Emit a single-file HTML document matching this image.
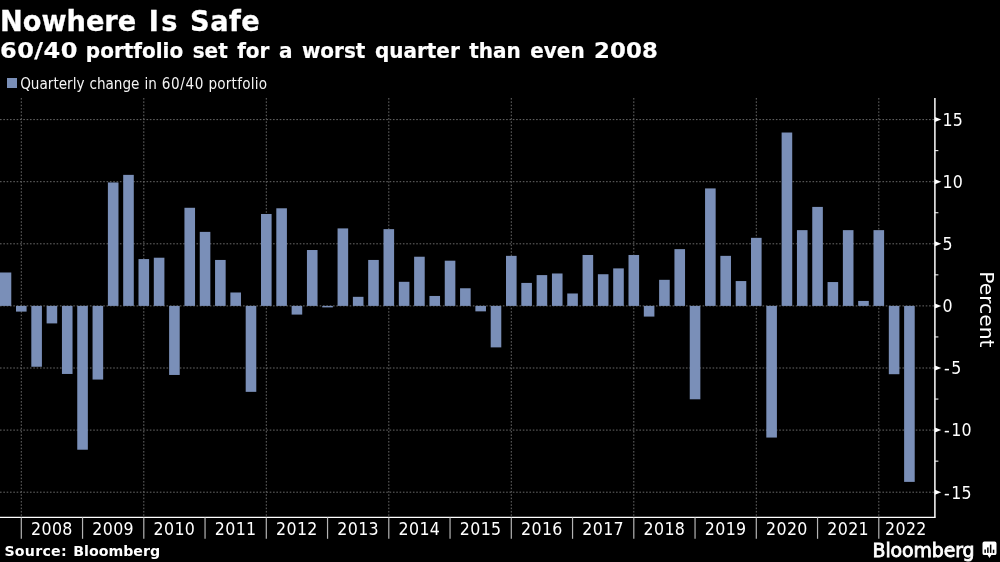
<!DOCTYPE html>
<html lang="en"><head><meta charset="utf-8"><title>Nowhere Is Safe</title>
<style>
html,body{margin:0;padding:0;background:#000;}
body{width:1000px;height:562px;overflow:hidden;position:relative;font-family:"DejaVu Sans","Liberation Sans",sans-serif;color:#fff;}
.title{position:absolute;left:0;top:1.5px;font-size:27.2px;font-weight:bold;line-height:40px;white-space:nowrap;word-spacing:3.2px;transform:scaleY(1.06);transform-origin:0 30.5px;-webkit-text-stroke:0.3px #fff;}
.title .i{letter-spacing:2.2px;margin-right:-2.2px;}
.title .s{letter-spacing:0.5px;}
.sub{position:absolute;left:0;top:36.7px;font-size:20px;font-weight:bold;line-height:28px;white-space:nowrap;word-spacing:2.5px;transform:scaleY(1.09);transform-origin:0 21.3px;-webkit-text-stroke:0.2px #fff;}
.sub .d{display:inline-block;transform:scaleX(1.2);transform-origin:0 50%;letter-spacing:0.4px;margin-right:11.4px;}
.sub .e{transform:scaleX(1.14);letter-spacing:0.1px;margin-right:6.5px;}
.leg{position:absolute;left:20.2px;top:73.8px;font-family:"DejaVu Sans Condensed","DejaVu Sans",sans-serif;font-stretch:condensed;font-size:15.1px;word-spacing:0.7px;line-height:20px;white-space:nowrap;color:#f4f4f4;}
.leg .d{letter-spacing:0.6px;margin-right:-0.6px;}
.leg .p{letter-spacing:0.22px;}
.sw{position:absolute;left:7.3px;top:78.4px;width:10.2px;height:9.8px;background:#7a8fb8;}
.src{position:absolute;left:4.4px;top:541.3px;font-size:14.2px;font-weight:bold;line-height:20px;white-space:nowrap;word-spacing:1.4px;}
.src .o{letter-spacing:0.25px;}
.logo{position:absolute;left:872.6px;top:538.1px;font-size:18.9px;font-weight:normal;line-height:24px;white-space:nowrap;font-family:"DejaVu Sans","Liberation Sans",sans-serif;-webkit-text-stroke:0.8px #fff;letter-spacing:-0.1px;}
svg{position:absolute;left:0;top:0;}
.w{position:absolute;left:0;top:0;width:1000px;height:562px;will-change:transform;filter:blur(0.35px);}
.g{stroke:#686868;stroke-width:1;stroke-dasharray:1.6 1.73;}
.b{fill:#7a8fb8;}
.a{stroke:#fff;stroke-width:1.5;}
.ab{stroke:#fff;stroke-width:1.2;}
.m{stroke:#fff;stroke-width:1;}
.t{stroke:#b4b4b4;stroke-width:1.2;}
.tk{fill:#fff;}
.yl,.vl{fill:#fff;font-family:"DejaVu Sans Condensed","DejaVu Sans",sans-serif;font-stretch:condensed;}
.pc{fill:#fff;font-family:"DejaVu Sans","Liberation Sans",sans-serif;}
.yl{font-size:17.6px;letter-spacing:0.35px;}
.vl{font-size:17.6px;}
.pc{font-size:20.3px;}
</style></head>
<body>
<div class="w">
<svg width="1000" height="562" viewBox="0 0 1000 562">
<line class="g" x1="0" y1="119.6" x2="934.9" y2="119.6"/>
<line class="g" x1="0" y1="181.7" x2="934.9" y2="181.7"/>
<line class="g" x1="0" y1="243.8" x2="934.9" y2="243.8"/>
<line class="g" x1="0" y1="305.9" x2="934.9" y2="305.9"/>
<line class="g" x1="0" y1="368" x2="934.9" y2="368"/>
<line class="g" x1="0" y1="430.1" x2="934.9" y2="430.1"/>
<line class="g" x1="0" y1="492.2" x2="934.9" y2="492.2"/>
<line class="g" x1="21.3" y1="98" x2="21.3" y2="517.45"/>
<line class="g" x1="143.8" y1="98" x2="143.8" y2="517.45"/>
<line class="g" x1="266.3" y1="98" x2="266.3" y2="517.45"/>
<line class="g" x1="388.8" y1="98" x2="388.8" y2="517.45"/>
<line class="g" x1="511.3" y1="98" x2="511.3" y2="517.45"/>
<line class="g" x1="633.8" y1="98" x2="633.8" y2="517.45"/>
<line class="g" x1="756.3" y1="98" x2="756.3" y2="517.45"/>
<line class="g" x1="878.8" y1="98" x2="878.8" y2="517.45"/>
<rect class="b" x="0" y="272.49" width="11.29" height="33.41"/>
<rect class="b" x="16" y="305.9" width="10.6" height="5.71"/>
<rect class="b" x="31.31" y="305.9" width="10.6" height="60.86"/>
<rect class="b" x="46.62" y="305.9" width="10.6" height="17.51"/>
<rect class="b" x="61.94" y="305.9" width="10.6" height="68.06"/>
<rect class="b" x="77.25" y="305.9" width="10.6" height="143.82"/>
<rect class="b" x="92.56" y="305.9" width="10.6" height="73.65"/>
<rect class="b" x="107.88" y="182.45" width="10.6" height="123.45"/>
<rect class="b" x="123.19" y="174.87" width="10.6" height="131.03"/>
<rect class="b" x="138.5" y="259.08" width="10.6" height="46.82"/>
<rect class="b" x="153.81" y="257.71" width="10.6" height="48.19"/>
<rect class="b" x="169.12" y="305.9" width="10.6" height="69.06"/>
<rect class="b" x="184.44" y="207.78" width="10.6" height="98.12"/>
<rect class="b" x="199.75" y="231.88" width="10.6" height="74.02"/>
<rect class="b" x="215.06" y="259.95" width="10.6" height="45.95"/>
<rect class="b" x="230.38" y="292.49" width="10.6" height="13.41"/>
<rect class="b" x="245.69" y="305.9" width="10.6" height="85.95"/>
<rect class="b" x="261" y="213.99" width="10.6" height="91.91"/>
<rect class="b" x="276.31" y="208.28" width="10.6" height="97.62"/>
<rect class="b" x="291.62" y="305.9" width="10.6" height="8.69"/>
<rect class="b" x="306.94" y="250.01" width="10.6" height="55.89"/>
<rect class="b" x="322.25" y="305.9" width="10.6" height="1.49"/>
<rect class="b" x="337.56" y="228.4" width="10.6" height="77.5"/>
<rect class="b" x="352.88" y="296.83" width="10.6" height="9.07"/>
<rect class="b" x="368.19" y="259.95" width="10.6" height="45.95"/>
<rect class="b" x="383.5" y="229.14" width="10.6" height="76.76"/>
<rect class="b" x="398.81" y="281.81" width="10.6" height="24.09"/>
<rect class="b" x="414.12" y="256.72" width="10.6" height="49.18"/>
<rect class="b" x="429.44" y="295.96" width="10.6" height="9.94"/>
<rect class="b" x="444.75" y="260.69" width="10.6" height="45.21"/>
<rect class="b" x="460.06" y="288.26" width="10.6" height="17.64"/>
<rect class="b" x="475.38" y="305.9" width="10.6" height="5.46"/>
<rect class="b" x="490.69" y="305.9" width="10.6" height="41.48"/>
<rect class="b" x="506" y="255.85" width="10.6" height="50.05"/>
<rect class="b" x="521.31" y="282.92" width="10.6" height="22.98"/>
<rect class="b" x="536.62" y="275.1" width="10.6" height="30.8"/>
<rect class="b" x="551.94" y="273.48" width="10.6" height="32.42"/>
<rect class="b" x="567.25" y="293.48" width="10.6" height="12.42"/>
<rect class="b" x="582.56" y="254.98" width="10.6" height="50.92"/>
<rect class="b" x="597.88" y="274.23" width="10.6" height="31.67"/>
<rect class="b" x="613.19" y="268.39" width="10.6" height="37.51"/>
<rect class="b" x="628.5" y="254.98" width="10.6" height="50.92"/>
<rect class="b" x="643.81" y="305.9" width="10.6" height="10.68"/>
<rect class="b" x="659.12" y="279.82" width="10.6" height="26.08"/>
<rect class="b" x="674.44" y="249.14" width="10.6" height="56.76"/>
<rect class="b" x="689.75" y="305.9" width="10.6" height="93.4"/>
<rect class="b" x="705.06" y="188.41" width="10.6" height="117.49"/>
<rect class="b" x="720.38" y="255.85" width="10.6" height="50.05"/>
<rect class="b" x="735.69" y="281.06" width="10.6" height="24.84"/>
<rect class="b" x="751" y="237.84" width="10.6" height="68.06"/>
<rect class="b" x="766.31" y="305.9" width="10.6" height="131.65"/>
<rect class="b" x="781.62" y="132.52" width="10.6" height="173.38"/>
<rect class="b" x="796.94" y="230.14" width="10.6" height="75.76"/>
<rect class="b" x="812.25" y="206.91" width="10.6" height="98.99"/>
<rect class="b" x="827.56" y="282.05" width="10.6" height="23.85"/>
<rect class="b" x="842.88" y="230.14" width="10.6" height="75.76"/>
<rect class="b" x="858.19" y="300.93" width="10.6" height="4.97"/>
<rect class="b" x="873.5" y="230.14" width="10.6" height="75.76"/>
<rect class="b" x="888.81" y="305.9" width="10.6" height="68.31"/>
<rect class="b" x="904.12" y="305.9" width="10.6" height="175.99"/>
<line class="ab" x1="0" y1="517.45" x2="935.6" y2="517.45"/>
<line class="a" x1="934.9" y1="98" x2="934.9" y2="517.45"/>
<line class="t" x1="21.3" y1="517.45" x2="21.3" y2="538.8"/>
<text class="yl" x="51.92" y="535.4" text-anchor="middle">2008</text>
<line class="t" x1="82.55" y1="517.45" x2="82.55" y2="538.8"/>
<text class="yl" x="113.17" y="535.4" text-anchor="middle">2009</text>
<line class="t" x1="143.8" y1="517.45" x2="143.8" y2="538.8"/>
<text class="yl" x="174.43" y="535.4" text-anchor="middle">2010</text>
<line class="t" x1="205.05" y1="517.45" x2="205.05" y2="538.8"/>
<text class="yl" x="235.68" y="535.4" text-anchor="middle">2011</text>
<line class="t" x1="266.3" y1="517.45" x2="266.3" y2="538.8"/>
<text class="yl" x="296.93" y="535.4" text-anchor="middle">2012</text>
<line class="t" x1="327.55" y1="517.45" x2="327.55" y2="538.8"/>
<text class="yl" x="358.18" y="535.4" text-anchor="middle">2013</text>
<line class="t" x1="388.8" y1="517.45" x2="388.8" y2="538.8"/>
<text class="yl" x="419.43" y="535.4" text-anchor="middle">2014</text>
<line class="t" x1="450.05" y1="517.45" x2="450.05" y2="538.8"/>
<text class="yl" x="480.68" y="535.4" text-anchor="middle">2015</text>
<line class="t" x1="511.3" y1="517.45" x2="511.3" y2="538.8"/>
<text class="yl" x="541.92" y="535.4" text-anchor="middle">2016</text>
<line class="t" x1="572.55" y1="517.45" x2="572.55" y2="538.8"/>
<text class="yl" x="603.17" y="535.4" text-anchor="middle">2017</text>
<line class="t" x1="633.8" y1="517.45" x2="633.8" y2="538.8"/>
<text class="yl" x="664.42" y="535.4" text-anchor="middle">2018</text>
<line class="t" x1="695.05" y1="517.45" x2="695.05" y2="538.8"/>
<text class="yl" x="725.67" y="535.4" text-anchor="middle">2019</text>
<line class="t" x1="756.3" y1="517.45" x2="756.3" y2="538.8"/>
<text class="yl" x="786.92" y="535.4" text-anchor="middle">2020</text>
<line class="t" x1="817.55" y1="517.45" x2="817.55" y2="538.8"/>
<text class="yl" x="848.17" y="535.4" text-anchor="middle">2021</text>
<line class="t" x1="878.8" y1="517.45" x2="878.8" y2="538.8"/>
<text class="yl" x="905.9" y="535.4" text-anchor="middle">2022</text>
<path class="tk" d="M934.9 117.1 L941.3 119.6 L934.9 122.1 Z"/>
<text class="vl" x="942.6" y="125.9">15</text>
<path class="tk" d="M934.9 179.2 L941.3 181.7 L934.9 184.2 Z"/>
<text class="vl" x="942.6" y="188">10</text>
<path class="tk" d="M934.9 241.3 L941.3 243.8 L934.9 246.3 Z"/>
<text class="vl" x="942.6" y="250.1">5</text>
<path class="tk" d="M934.9 303.4 L941.3 305.9 L934.9 308.4 Z"/>
<text class="vl" x="942.5" y="312.2">0</text>
<path class="tk" d="M934.9 365.5 L941.3 368 L934.9 370.5 Z"/>
<text class="vl" x="944.0" y="374.3">-<tspan dx="1.6">5</tspan></text>
<path class="tk" d="M934.9 427.6 L941.3 430.1 L934.9 432.6 Z"/>
<text class="vl" x="944.0" y="436.4">-<tspan dx="1.6">10</tspan></text>
<path class="tk" d="M934.9 489.7 L941.3 492.2 L934.9 494.7 Z"/>
<text class="vl" x="944.0" y="498.5">-<tspan dx="1.6">15</tspan></text>
<line class="m" x1="934.9" y1="150.65" x2="938.4" y2="150.65"/>
<line class="m" x1="934.9" y1="212.75" x2="938.4" y2="212.75"/>
<line class="m" x1="934.9" y1="274.85" x2="938.4" y2="274.85"/>
<line class="m" x1="934.9" y1="336.95" x2="938.4" y2="336.95"/>
<line class="m" x1="934.9" y1="399.05" x2="938.4" y2="399.05"/>
<line class="m" x1="934.9" y1="461.15" x2="938.4" y2="461.15"/>
<text class="pc" transform="translate(980.1 309.4) rotate(90)" text-anchor="middle">Percent</text>
<g class="ico"><path d="M984.4 541.5 h10.2 a1.9 1.9 0 0 1 1.9 1.9 v9.8 a1.9 1.9 0 0 1 -1.9 1.9 h-3.2 l-1.9 2.8 l-1.9 -2.8 h-3.2 a1.9 1.9 0 0 1 -1.9 -1.9 v-9.8 a1.9 1.9 0 0 1 1.9 -1.9 z" fill="#fff"/><rect x="984.4" y="549.5" width="1.5" height="3.4" fill="#000"/><rect x="987.1" y="547.4" width="1.5" height="5.5" fill="#000"/><rect x="989.9" y="544.6" width="1.5" height="8.3" fill="#000"/><rect x="992.8" y="549.7" width="1.5" height="3.4" fill="#000"/></g>
</svg>
<div class="title">Nowhere <span class="i">Is</span> <span class="s">Safe</span></div>
<div class="sub"><span class="d">60/40</span> portfolio set for a worst quarter than even <span class="d e">2008</span></div>
<div class="sw"></div>
<div class="leg">Quarterly change in <span class="d">60/40</span> <span class="p">portfolio</span></div>
<div class="src"><span class="o">Source:</span> Bloomberg</div>
<div class="logo">Bloomberg</div>
</div>
</body></html>
